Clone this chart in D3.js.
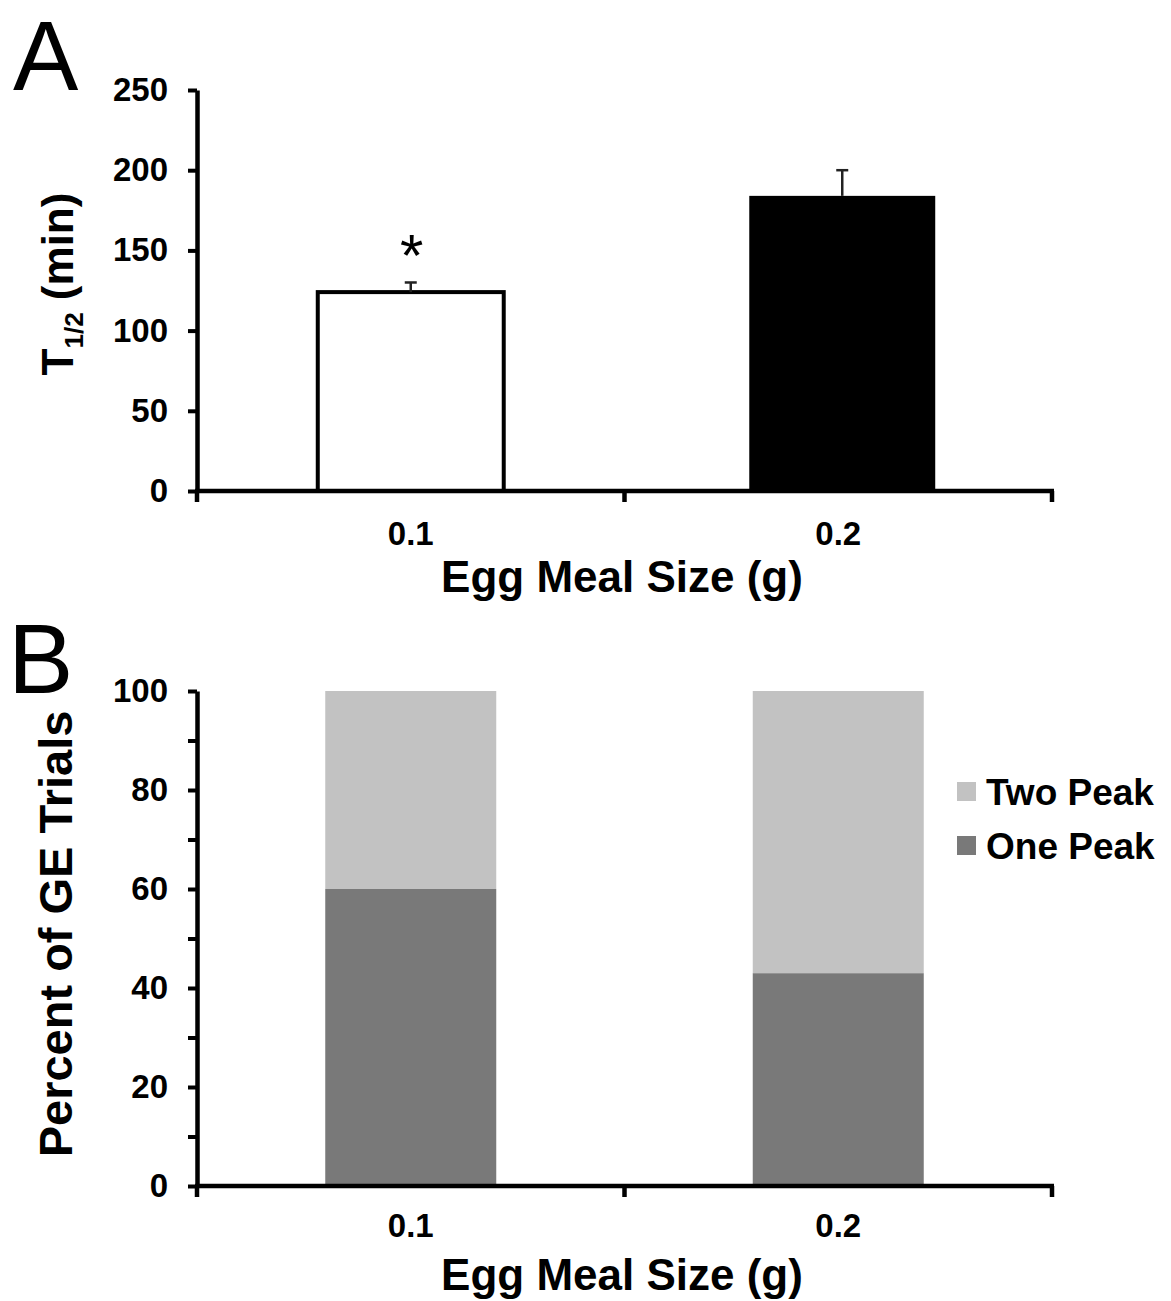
<!DOCTYPE html>
<html lang="en">
  <head>
    <meta charset="utf-8">
    <title>Egg meal size</title>
    <style>
      body { margin: 0; background: #fff; }
      text { font-family: "Liberation Sans", Arial, sans-serif; fill: #000; }
      .axis path, .axis line { stroke: #000; }
      .axis text { font-weight: bold; font-size: 33px; }
      .title { font-weight: bold; font-size: 44px; }
      .panel { font-family: "Liberation Sans", Arial, sans-serif; font-size: 98px; }
    </style>
  </head>
  <body>
    <svg width="1171" height="1301"></svg>

  <script src="https://d3js.org/d3.v7.min.js"></script>
  <script>
  // data
  var mealSizes = ["0.1", "0.2"];
  var halfTime = [124, 184];        // T1/2 mean, min
  var halfTimeErr = [6, 16];        // SEM, min
  var halfTimeTicks = [0, 50, 100, 150, 200, 250];
  var onePeak = [60, 43];           // percent of GE trials
  var twoPeak = [40, 57];
  var pctTicks = [0, 10, 20, 30, 40, 50, 60, 70, 80, 90, 100];
  var peakNames = ["Two Peak", "One Peak"];
  var peakColors = ["#c2c2c2", "#797979"];

  var svg = d3.select("svg");
  svg.append("rect").attr("width", 1171).attr("height", 1301).attr("fill", "#fff");

  var left = 197, right = 1052;
  var x = d3.scaleBand().domain(mealSizes).range([left, right]).padding(0);

  function xAxis(g, y0, labelGap) {
    // labels at the category centres
    var ax = g.append("g").attr("class", "axis")
      .attr("transform", "translate(0," + y0 + ")")
      .call(d3.axisBottom(x).tickSize(0).tickPadding(labelGap).tickSizeOuter(0));
    ax.select(".domain").remove();
    // the axis line and boundary ticks
    var edges = mealSizes.map(function(d) { return x(d); }).concat([right]);
    g.append("line").attr("x1", left - 2).attr("x2", right + 2)
      .attr("y1", y0).attr("y2", y0)
      .attr("stroke", "#000").attr("stroke-width", 4.5);
    g.selectAll(".edge").data(edges).enter().append("line")
      .attr("x1", function(d) { return d; }).attr("x2", function(d) { return d; })
      .attr("y1", y0).attr("y2", y0 + 11)
      .attr("stroke", "#000").attr("stroke-width", 4.5);
  }

  function yAxis(g, y, ticks, showLabel) {
    var ax = g.append("g").attr("class", "axis")
      .attr("transform", "translate(" + left + ",0)")
      .call(d3.axisLeft(y).tickValues(ticks).tickSize(9).tickPadding(20).tickSizeOuter(0)
        .tickFormat(function(d) { return showLabel(d) ? d : ""; }));
    ax.select(".domain").attr("stroke-width", 4.5);
    ax.selectAll(".tick line").attr("stroke-width", 4);
  }

  // ---------- panel A ----------
  var gA = svg.append("g");
  var yA = d3.scaleLinear().domain([0, 250]).range([491, 90]);
  var barA = x.bandwidth() * 0.435;

  gA.selectAll(".bar").data(mealSizes).enter().append("rect")
    .attr("x", function(d) { return x(d) + x.bandwidth() / 2 - barA / 2 + (d == "0.2" ? 4 : 0); })
    .attr("y", function(d, i) { return yA(halfTime[i]); })
    .attr("width", barA)
    .attr("height", function(d, i) { return yA(0) - yA(halfTime[i]); })
    .attr("fill", function(d, i) { return i == 0 ? "#fff" : "#000"; })
    .attr("stroke", function(d, i) { return i == 0 ? "#000" : "none"; })
    .attr("stroke-width", 4);

  var err = gA.selectAll(".err").data(mealSizes).enter().append("g")
    .attr("transform", function(d) { return "translate(" + (x(d) + x.bandwidth() / 2 + (d == "0.2" ? 4 : 0)) + ",0)"; });
  err.append("line")
    .attr("y1", function(d, i) { return yA(halfTime[i]); })
    .attr("y2", function(d, i) { return yA(halfTime[i] + halfTimeErr[i]); })
    .attr("stroke", "#222").attr("stroke-width", 2.5);
  err.append("line")
    .attr("x1", -6).attr("x2", 6)
    .attr("y1", function(d, i) { return yA(halfTime[i] + halfTimeErr[i]); })
    .attr("y2", function(d, i) { return yA(halfTime[i] + halfTimeErr[i]); })
    .attr("stroke", "#222").attr("stroke-width", 2.5);

  // significance mark over the 0.1 g bar
  gA.append("text")
    .attr("x", x("0.1") + x.bandwidth() / 2 + 1)
    .attr("y", yA(halfTime[0] + halfTimeErr[0]) - 6)
    .attr("text-anchor", "middle")
    .style("font-size", "60px")
    .text("*");

  yAxis(gA, yA, halfTimeTicks, function() { return true; });
  xAxis(gA, yA(0), 31);

  gA.append("text").attr("class", "title")
    .attr("x", 622).attr("y", 592).attr("text-anchor", "middle")
    .text("Egg Meal Size (g)");

  var tA = gA.append("text").attr("class", "title")
    .attr("transform", "translate(73,284) rotate(-90)")
    .attr("text-anchor", "middle");
  tA.append("tspan").text("T");
  tA.append("tspan").attr("dy", 10).style("font-size", "26px").text("1/2");
  tA.append("tspan").attr("dy", -10).text(" (min)");

  gA.append("text").attr("class", "panel").attr("x", 13).attr("y", 90).text("A");

  // ---------- panel B ----------
  var gB = svg.append("g");
  var yB = d3.scaleLinear().domain([0, 100]).range([1186, 691]);
  var barB = x.bandwidth() * 0.4;

  var stack = d3.stack().keys(["one", "two"])(mealSizes.map(function(d, i) {
    return { size: d, one: onePeak[i], two: twoPeak[i] };
  }));
  var keyColor = { one: peakColors[1], two: peakColors[0] };

  gB.selectAll(".layer").data(stack).enter().append("g")
    .attr("fill", function(s) { return keyColor[s.key]; })
    .selectAll("rect").data(function(s) { return s; }).enter().append("rect")
    .attr("x", function(d) { return x(d.data.size) + x.bandwidth() / 2 - barB / 2; })
    .attr("y", function(d) { return yB(d[1]); })
    .attr("width", barB)
    .attr("height", function(d) { return yB(d[0]) - yB(d[1]); });

  yAxis(gB, yB, pctTicks, function(d) { return d % 20 == 0; });
  xAxis(gB, yB(0), 28);

  gB.append("text").attr("class", "title")
    .attr("x", 622).attr("y", 1290).attr("text-anchor", "middle")
    .text("Egg Meal Size (g)");

  gB.append("text").attr("class", "title")
    .attr("transform", "translate(72,934) rotate(-90)")
    .attr("text-anchor", "middle")
    .style("font-size", "47px")
    .text("Percent of GE Trials");

  var legend = gB.selectAll(".leg").data(peakNames).enter().append("g")
    .attr("transform", function(d, i) { return "translate(957," + (782 + i * 54) + ")"; });
  legend.append("rect").attr("width", 19).attr("height", 19)
    .attr("fill", function(d, i) { return peakColors[i]; });
  legend.append("text").attr("x", 29).attr("y", 23)
    .style("font-weight", "bold").style("font-size", "37px")
    .text(function(d) { return d; });

  gB.append("text").attr("class", "panel").attr("x", 8).attr("y", 693).text("B");
  </script>
  </body>
</html>
